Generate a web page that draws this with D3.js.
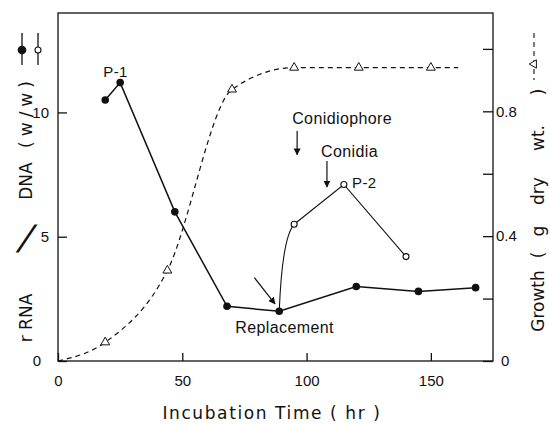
<!DOCTYPE html>
<html>
<head>
<meta charset="utf-8">
<script src="https://cdn.jsdelivr.net/npm/d3@7"></script>
<style>
  body { margin: 0; background: #fff; }
  svg { display: block; }
  text { fill: #111; }
</style>
</head>
<body>
<div id="chart"></div>
<script>
// rRNA / DNA (filled circles)
const rnaTime  = [19, 25, 47, 68, 89, 120, 145, 168];
const rnaValue = [10.5, 11.2, 6.0, 2.2, 2.0, 3.0, 2.8, 2.95];

// rRNA / DNA after replacement (open circles)
const repTime  = [89, 95, 115, 140];
const repValue = [2.0, 5.5, 7.1, 4.2];

// Growth (triangles), first and last points carry no marker
const growthTime  = [0, 19, 44, 70, 95, 121, 150, 161];
const growthValue = [0, 0.06, 0.29, 0.87, 0.94, 0.94, 0.94, 0.94];

// Ticks
const xTicks = [0, 50, 100, 150];
const leftTicks = [0, 5, 10];
const rightTicks = [0, 0.2, 0.4, 0.6, 0.8, 1.0];
const rightLabels = [0, 0.4, 0.8];

// Annotations, in data units (time, rRNA/DNA), left aligned
const labels = [
  { text: "P-1", t: 18.2, v: 11.42, size: 15 },
  { text: "Conidiophore", t: 94.2, v: 9.53, size: 16 },
  { text: "Conidia", t: 105.8, v: 8.2, size: 16 },
  { text: "P-2", t: 118.3, v: 6.96, size: 15 },
  { text: "Replacement", t: 71.3, v: 1.13, size: 16 }
];
const arrows = [
  { t0: 96.2, v0: 9.25, t1: 96.2, v1: 8.3 },
  { t0: 108.2, v0: 8.05, t1: 108.2, v1: 7.0 },
  { t0: 79, v0: 3.35, t1: 87.3, v1: 2.3 }
];

const W = 550, H = 425;
const plot = { left: 58, right: 493, top: 13, bottom: 361 };

const svg = d3.select("#chart").append("svg")
    .attr("width", W)
    .attr("height", H)
    .style("font-family", "'Liberation Sans', Arial, sans-serif");

svg.append("defs").append("marker")
    .attr("id", "head")
    .attr("viewBox", "0 0 10 10")
    .attr("refX", 9).attr("refY", 5)
    .attr("markerWidth", 7).attr("markerHeight", 8)
    .attr("markerUnits", "userSpaceOnUse")
    .attr("orient", "auto")
  .append("path")
    .attr("d", "M0,0 L10,5 L0,10 Z")
    .attr("fill", "#111");

// Scales
const x = d3.scaleLinear().domain([0, 175]).range([plot.left, plot.right]);
const yL = d3.scaleLinear().domain([0, 14]).range([plot.bottom, plot.top]);
const yR = d3.scaleLinear().domain([0, 1.115]).range([plot.bottom, plot.top]);

// Frame
svg.append("rect")
    .attr("x", plot.left).attr("y", plot.top)
    .attr("width", plot.right - plot.left)
    .attr("height", plot.bottom - plot.top)
    .attr("fill", "none")
    .attr("stroke", "#111")
    .attr("stroke-width", 1.3);

// Axes (ticks point inward)
const gx = svg.append("g")
    .attr("transform", `translate(0,${plot.bottom})`)
    .call(d3.axisBottom(x).tickValues(xTicks).tickSize(-8).tickPadding(14));

const gl = svg.append("g")
    .attr("transform", `translate(${plot.left},0)`)
    .call(d3.axisLeft(yL).tickValues(leftTicks).tickSize(-9).tickPadding(9));

const gr = svg.append("g")
    .attr("transform", `translate(${plot.right},0)`)
    .call(d3.axisRight(yR).tickValues(rightTicks).tickSize(-10).tickPadding(3)
      .tickFormat(d => rightLabels.includes(d) ? d3.format("~g")(d) : ""));

[gx, gl, gr].forEach(g => {
  g.select(".domain").remove();
  g.selectAll(".tick line").attr("stroke", "#111").attr("stroke-width", 1.3);
  g.selectAll(".tick text").attr("fill", "#111").style("font-size", "15px");
});
// the zero on the left sits a little further out
gl.selectAll(".tick text").filter(d => d === 0).attr("dx", -8);
gr.selectAll(".tick text").filter(d => d === 0).attr("dx", 5);

// Growth curve (dashed)
const growth = growthTime.map((t, i) => ({ t, v: growthValue[i] }));
svg.append("path")
    .datum(growth)
    .attr("fill", "none")
    .attr("stroke", "#111")
    .attr("stroke-width", 1.2)
    .attr("stroke-dasharray", "5,4")
    .attr("d", d3.line().x(d => x(d.t)).y(d => yR(d.v)).curve(d3.curveMonotoneX));

svg.selectAll(".tri")
    .data(growth.slice(1, -1))
    .enter().append("path")
    .attr("class", "tri")
    .attr("transform", d => `translate(${x(d.t)},${yR(d.v)})`)
    .attr("d", d3.symbol(d3.symbolTriangle, 34))
    .attr("fill", "#fff")
    .attr("stroke", "#111")
    .attr("stroke-width", 1);

// Open circle series after replacement: first leg bends up steeply, rest straight
const rep = repTime.map((t, i) => ({ t, v: repValue[i] }));
const p0 = [x(rep[0].t), yL(rep[0].v)], p1 = [x(rep[1].t), yL(rep[1].v)];
const bend = d3.path();
bend.moveTo(p0[0], p0[1]);
bend.quadraticCurveTo(p0[0] + 0.2 * (p1[0] - p0[0]), p1[1] + 0.15 * (p0[1] - p1[1]), p1[0], p1[1]);
svg.append("path")
    .attr("fill", "none").attr("stroke", "#111").attr("stroke-width", 1.1)
    .attr("d", bend.toString());
svg.append("path")
    .datum(rep.slice(1))
    .attr("fill", "none").attr("stroke", "#111").attr("stroke-width", 1.1)
    .attr("d", d3.line().x(d => x(d.t)).y(d => yL(d.v)));

// Filled circle series
const rna = rnaTime.map((t, i) => ({ t, v: rnaValue[i] }));
svg.append("path")
    .datum(rna)
    .attr("fill", "none")
    .attr("stroke", "#111")
    .attr("stroke-width", 1.5)
    .attr("d", d3.line().x(d => x(d.t)).y(d => yL(d.v)));

svg.selectAll(".open")
    .data(rep.slice(1))
    .enter().append("circle")
    .attr("cx", d => x(d.t)).attr("cy", d => yL(d.v))
    .attr("r", 3)
    .attr("fill", "#fff").attr("stroke", "#111").attr("stroke-width", 1.1);

svg.selectAll(".dot")
    .data(rna)
    .enter().append("circle")
    .attr("cx", d => x(d.t)).attr("cy", d => yL(d.v))
    .attr("r", 3.8)
    .attr("fill", "#111");

// Annotations
svg.selectAll(".lbl")
    .data(labels)
    .enter().append("text")
    .attr("x", d => x(d.t)).attr("y", d => yL(d.v))
    .style("font-size", d => d.size + "px")
    .style("letter-spacing", "0.4px")
    .text(d => d.text);

svg.selectAll(".arr")
    .data(arrows)
    .enter().append("line")
    .attr("x1", d => x(d.t0)).attr("y1", d => yL(d.v0))
    .attr("x2", d => x(d.t1)).attr("y2", d => yL(d.v1))
    .attr("stroke", "#111").attr("stroke-width", 1.2)
    .attr("marker-end", "url(#head)");

// X title
svg.append("text")
    .attr("x", 272).attr("y", 419)
    .attr("text-anchor", "middle")
    .attr("xml:space", "preserve")
    .style("font-family", "'DejaVu Sans', sans-serif")
    .style("font-size", "17px")
    .style("letter-spacing", "1.6px")
    .text("Incubation Time ( hr )");

// Rotated titles, laid out piece by piece along the side (screen y centre)
function sideTitle(cx, pieces) {
  const g = svg.append("g")
      .style("font-family", "'DejaVu Sans', sans-serif");
  pieces.forEach(p => {
    g.append("text")
        .attr("transform", `translate(${cx},${p.y}) rotate(-90)`)
        .attr("text-anchor", "middle")
        .style("font-size", (p.size || 17) + "px")
        .style("letter-spacing", (p.ls || 0) + "px")
        .text(p.text);
  });
}

sideTitle(32, [
  { text: "r RNA", y: 318 },
  { text: "DNA", y: 181 },
  { text: "(w/w)", y: 112, ls: 5 }
]);

// the long slash between r RNA and DNA
svg.append("text")
    .attr("transform", "translate(21,252) skewX(-22)")
    .attr("text-anchor", "middle")
    .style("font-size", "38px")
    .style("font-weight", "300")
    .text("/");

sideTitle(544, [
  { text: "Growth", y: 301 },
  { text: "(", y: 255 },
  { text: "g", y: 231 },
  { text: "dry", y: 191 },
  { text: "wt.", y: 138 },
  { text: ")", y: 92 }
]);

// Legend symbols beside the left title
[{ cx: 22, filled: true }, { cx: 38, filled: false }].forEach(s => {
  svg.append("line")
      .attr("x1", s.cx).attr("x2", s.cx).attr("y1", 33).attr("y2", 65)
      .attr("stroke", "#111").attr("stroke-width", 1.3);
  svg.append("circle")
      .attr("cx", s.cx).attr("cy", 50).attr("r", s.filled ? 3.8 : 3)
      .attr("fill", s.filled ? "#111" : "#fff")
      .attr("stroke", "#111").attr("stroke-width", 1.1);
});

// Legend symbol beside the right title
svg.append("line")
    .attr("x1", 534).attr("x2", 534).attr("y1", 33).attr("y2", 80)
    .attr("stroke", "#111").attr("stroke-width", 1.1)
    .attr("stroke-dasharray", "5,4");
svg.append("path")
    .attr("transform", "translate(534,64) rotate(-90)")
    .attr("d", d3.symbol(d3.symbolTriangle, 30))
    .attr("fill", "#fff").attr("stroke", "#111").attr("stroke-width", 1);
</script>
</body>
</html>
